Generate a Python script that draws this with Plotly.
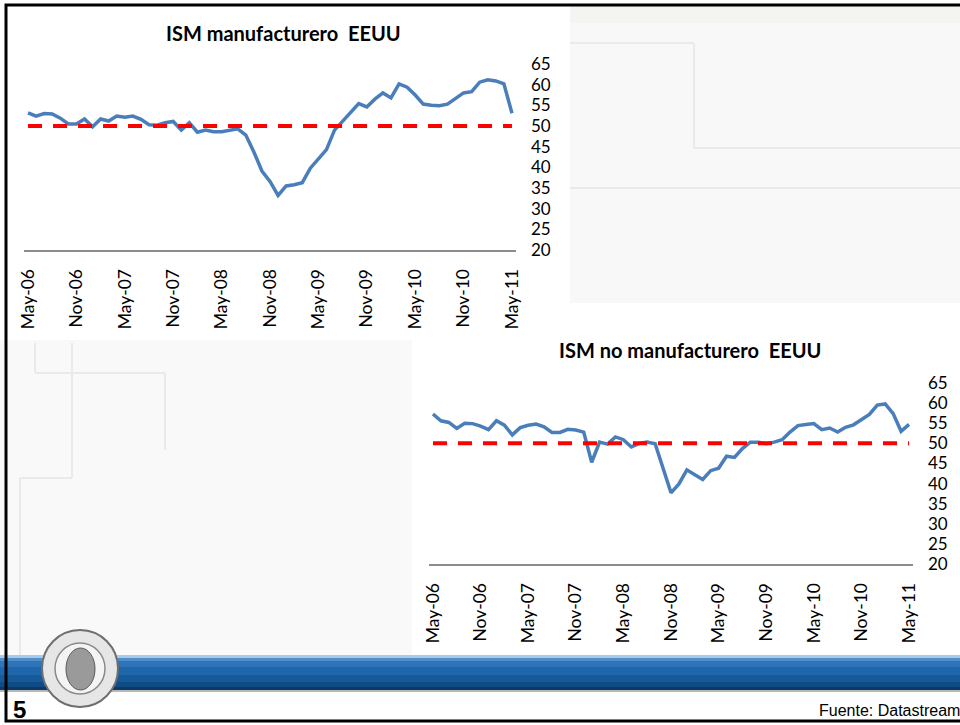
import plotly.graph_objects as go
import pandas as pd

# ---------------- data ----------------
months = list(pd.date_range("2006-05-01", periods=61, freq="MS").strftime("%b-%y"))
tick_labels = ["May-06", "Nov-06", "May-07", "Nov-07", "May-08", "Nov-08",
               "May-09", "Nov-09", "May-10", "Nov-10", "May-11"]
y_ticks = [20, 25, 30, 35, 40, 45, 50, 55, 60, 65]

ism_manuf = [53.2, 52.4, 53.0, 52.9, 51.9, 50.5, 50.5, 51.7, 49.8, 51.7,
             51.2, 52.4, 52.1, 52.4, 51.6, 50.3, 50.2, 50.8, 51.1, 49.0,
             50.8, 48.5, 49.0, 48.6, 48.6, 49.0, 49.3, 47.8, 43.7, 39.1,
             36.6, 33.2, 35.5, 35.8, 36.3, 39.8, 42.0, 44.3, 49.0, 51.2,
             53.1, 55.4, 54.6, 56.5, 58.0, 56.8, 60.2, 59.4, 57.5, 55.3,
             55.0, 54.9, 55.3, 56.6, 58.0, 58.3, 60.6, 61.2, 60.9, 60.2,
             53.1]
ism_no_manuf = [57.3, 55.6, 55.2, 53.7, 55.0, 54.9, 54.3, 53.4, 55.6, 54.5,
                52.1, 53.9, 54.5, 54.8, 54.1, 52.7, 52.7, 53.5, 53.3, 52.8,
                45.3, 50.3, 49.8, 51.6, 50.9, 49.1, 50.0, 50.3, 49.9, 44.1,
                37.7, 39.9, 43.4, 42.2, 41.0, 43.2, 43.8, 46.8, 46.5, 48.7,
                50.3, 50.3, 49.9, 50.3, 50.9, 52.8, 54.4, 54.7, 54.9, 53.4,
                53.8, 52.8, 54.0, 54.6, 56.0, 57.2, 59.5, 59.8, 57.4, 53.0,
                54.7]
threshold = 50

title1 = "ISM manufacturero  EEUU"
title2 = "ISM no manufacturero  EEUU"
source_text = "Fuente: Datastream"
slide_number = "5"

# ---------------- styling ----------------
W, H = 960, 725
BLUE = "#4A7EBB"
RED = "#FF0000"
AXIS_GRAY = "#8C8C8C"
FONT = "Lato, Open Sans, sans-serif"


def px(x):
    return x / W


def py(y):
    return 1 - y / H


fig = go.Figure()

panels = [
    (ism_manuf, "x", "y"),
    (ism_no_manuf, "x2", "y2"),
]
for vals, xa, ya in panels:
    fig.add_trace(go.Scatter(x=months, y=vals, mode="lines", xaxis=xa, yaxis=ya,
                             line=dict(color=BLUE, width=3.5), showlegend=False,
                             hoverinfo="skip"))
    fig.add_trace(go.Scatter(x=[months[0], months[-1]], y=[threshold, threshold],
                             mode="lines", xaxis=xa, yaxis=ya,
                             line=dict(color=RED, width=4, dash="14px,11px"),
                             showlegend=False, hoverinfo="skip"))

xaxis_common = dict(type="category", categoryorder="array", categoryarray=months,
                    range=[-0.5, 60.5], tickmode="array", tickvals=tick_labels,
                    ticktext=tick_labels, tickangle=-90, showgrid=False,
                    zeroline=False, showline=True, linecolor=AXIS_GRAY, linewidth=2,
                    ticks="", ticklabelstandoff=10, automargin=False,
                    tickfont=dict(family=FONT, size=17.5, color="black"))
yaxis_common = dict(range=[20, 65], tickmode="array", tickvals=y_ticks, side="right",
                    showgrid=False, zeroline=False, showline=False, ticks="",
                    ticklabelstandoff=14, automargin=False,
                    tickfont=dict(family=FONT, size=17, color="black"))

fig.update_layout(
    width=W, height=H, autosize=False,
    margin=dict(l=0, r=0, t=0, b=0, pad=0, autoexpand=False),
    paper_bgcolor="white", plot_bgcolor="rgba(0,0,0,0)",
    showlegend=False,
    xaxis=dict(domain=[px(24), px(516)], anchor="y", **xaxis_common),
    yaxis=dict(domain=[py(250), py(64)], anchor="x", **yaxis_common),
    xaxis2=dict(domain=[px(429), px(913)], anchor="y2", **xaxis_common),
    yaxis2=dict(domain=[py(564), py(383)], anchor="x2", **yaxis_common),
)

shapes = []
LG = "#F8F8F8"
LN = "#EAEAEA"
shapes.append(dict(type="rect", xref="paper", yref="paper", x0=px(570), x1=px(960),
                   y0=py(303), y1=py(5), fillcolor=LG, line=dict(width=0), layer="below"))
shapes.append(dict(type="rect", xref="paper", yref="paper", x0=px(570), x1=px(960),
                   y0=py(23), y1=py(5), fillcolor="#F4F4F0", line=dict(width=0), layer="below"))
shapes.append(dict(type="rect", xref="paper", yref="paper", x0=px(0), x1=px(412),
                   y0=py(656), y1=py(340), fillcolor="#F9F9F9", line=dict(width=0), layer="below"))
deco = [
    [(570, 43), (694, 43), (694, 148), (960, 148)],
    [(570, 188), (960, 188)],
    [(35, 343), (35, 373), (165, 373), (165, 450)],
    [(72, 343), (72, 478), (20, 478), (20, 656)],
]
for path in deco:
    for (xa_, ya_), (xb_, yb_) in zip(path[:-1], path[1:]):
        shapes.append(dict(type="line", xref="paper", yref="paper", x0=px(xa_), x1=px(xb_),
                           y0=py(ya_), y1=py(yb_), line=dict(color=LN, width=2), layer="below"))

band = [(655, 658, "#A9CBEA"), (658, 661, "#4F8FCB"), (661, 667, "#2D74B8"),
        (667, 675, "#1F66AA"), (675, 682, "#175A9A"), (682, 687, "#0F4C86"),
        (687, 690, "#0A3A68"), (690, 692, "#B8B8B8")]
for y0, y1, c in band:
    shapes.append(dict(type="rect", xref="paper", yref="paper", x0=0, x1=1,
                       y0=py(y1), y1=py(y0), fillcolor=c, line=dict(width=0), layer="below"))

shapes.append(dict(type="circle", xref="paper", yref="paper", x0=px(42), x1=px(118),
                   y0=py(707), y1=py(630), fillcolor="#E6E6E6",
                   line=dict(color="#6E6E6E", width=2), layer="above"))
shapes.append(dict(type="circle", xref="paper", yref="paper", x0=px(55), x1=px(105),
                   y0=py(694), y1=py(643), fillcolor="#F4F4F4",
                   line=dict(color="#8A8A8A", width=1.5), layer="above"))
shapes.append(dict(type="circle", xref="paper", yref="paper", x0=px(66), x1=px(95),
                   y0=py(690), y1=py(648), fillcolor="#9A9A9A",
                   line=dict(color="#5A5A5A", width=1), layer="above"))

shapes.append(dict(type="rect", xref="paper", yref="paper", x0=px(6), x1=px(965),
                   y0=py(721), y1=py(5), fillcolor="rgba(0,0,0,0)",
                   line=dict(color="black", width=3), layer="above"))

fig.update_layout(shapes=shapes)

annotations = [
    dict(text="<b>" + title1 + "</b>", x=px(283), y=py(33), xref="paper", yref="paper",
         showarrow=False, xanchor="center", yanchor="middle",
         font=dict(family=FONT, size=20, color="black")),
    dict(text="<b>" + title2 + "</b>", x=px(690), y=py(350), xref="paper", yref="paper",
         showarrow=False, xanchor="center", yanchor="middle",
         font=dict(family=FONT, size=20, color="black")),
    dict(text="<b>" + slide_number + "</b>", x=px(11), y=py(709), xref="paper", yref="paper",
         showarrow=False, xanchor="left", yanchor="middle",
         font=dict(family="Liberation Sans Narrow, Liberation Sans, sans-serif", size=24,
                   color="black")),
    dict(text=source_text, x=px(817), y=py(710), xref="paper", yref="paper",
         showarrow=False, xanchor="left", yanchor="middle",
         font=dict(family="Liberation Sans Narrow, Liberation Sans, sans-serif", size=16,
                   color="black")),
]
fig.update_layout(annotations=annotations)

fig.write_html("out.html", config={"displayModeBar": False},
               post_script="document.body.style.margin='0px';")
